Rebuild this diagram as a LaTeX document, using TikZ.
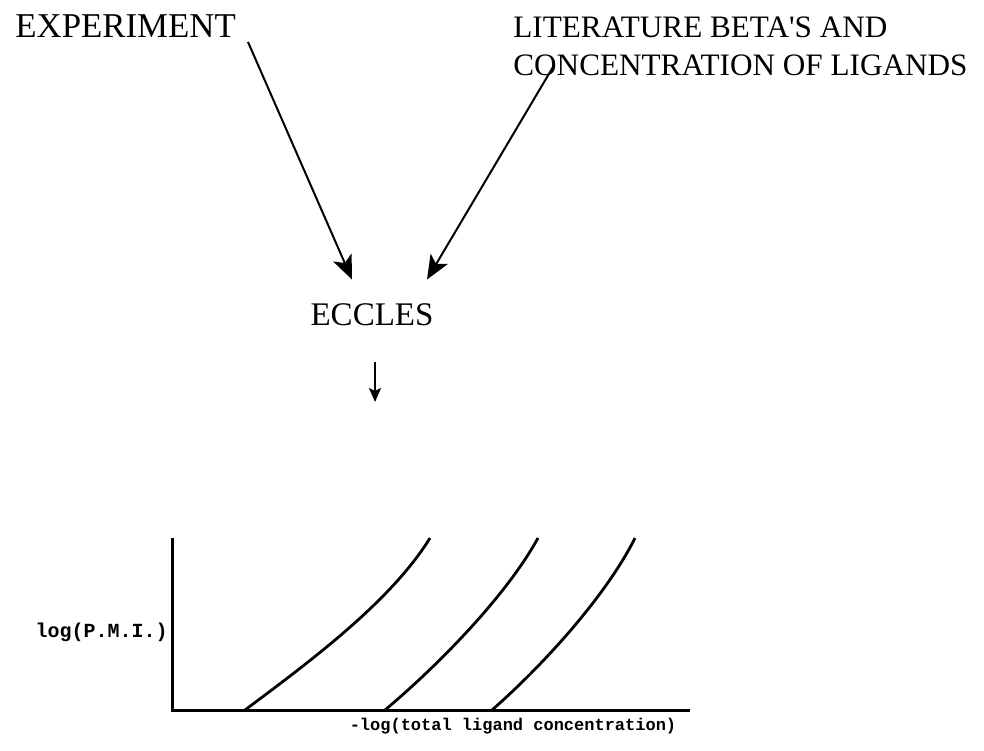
\documentclass[tikz,border=0pt]{standalone}
\usepackage{fontspec}
\setmainfont{Liberation Serif}
\setmonofont{Liberation Mono}
\usepackage{tikz}
\usetikzlibrary{arrows.meta,positioning}
\tikzstyle{title} = [inner sep=0pt, align=left, font=\fontsize{16.5}{19}\selectfont]
\tikzstyle{axislabel} = [inner sep=0pt, font=\ttfamily\bfseries\fontsize{8.5}{10}\selectfont]
\tikzstyle{line} = [draw, line width=1pt, -{Stealth[length=12pt,width=10pt,inset=3pt]}]
\tikzstyle{smallline} = [draw, line width=1pt, -{Stealth[length=7pt,width=6pt,inset=1.5pt]}]
\tikzstyle{axis} = [draw, line width=1.5pt]
\tikzstyle{curve} = [draw, line width=1.4pt]

\begin{document}
\begin{tikzpicture}[x=0.5pt, y=-0.5pt]
    \useasboundingbox (0,0) rectangle (984,750);
    \node [title, anchor=base west, font=\fontsize{17.4}{19}\selectfont] (expt) at (15,37) {EXPERIMENT};
    \node [title, anchor=north west, font=\fontsize{15.6}{19}\selectfont] (lit) at (513,16) {LITERATURE BETA\textquotesingle S AND\\CONCENTRATION OF LIGANDS};
    \node [title] (eccles) at (372,315) {ECCLES};

    \coordinate (expttail) at (248,42);
    \coordinate (littail) at (553,67);
    \coordinate (graphtop) at (375,402);
    \path [line] (expttail) -- ([xshift=-10pt, yshift=12pt]eccles.north);
    \path [line] (littail) -- ([xshift=27.5pt, yshift=12pt]eccles.north);
    \path [smallline] ([xshift=1.5pt, yshift=-18pt]eccles.south) -- (graphtop);

    % plot
    \coordinate (origin) at (172,710);
    \coordinate (ytop) at (172,538);
    \coordinate (ymid) at (172,632);
    \coordinate (xend) at (690,710);
    \path [axis] (ytop) -- (origin) -- (xend);
    \path [curve] (245,710) .. controls (305,665) and (390,603) .. (430,538);
    \path [curve] (385,710) .. controls (435,668) and (505,598) .. (538,538);
    \path [curve] (492,710) .. controls (540,668) and (605,598) .. (635,538);

    \node [axislabel, left=2pt of ymid, font=\ttfamily\bfseries\fontsize{10}{11}\selectfont] (ylab) {log(P.M.I.)};
    \node [axislabel] (xlab) at (513,726) {-log(total ligand concentration)};
\end{tikzpicture}
\end{document}
